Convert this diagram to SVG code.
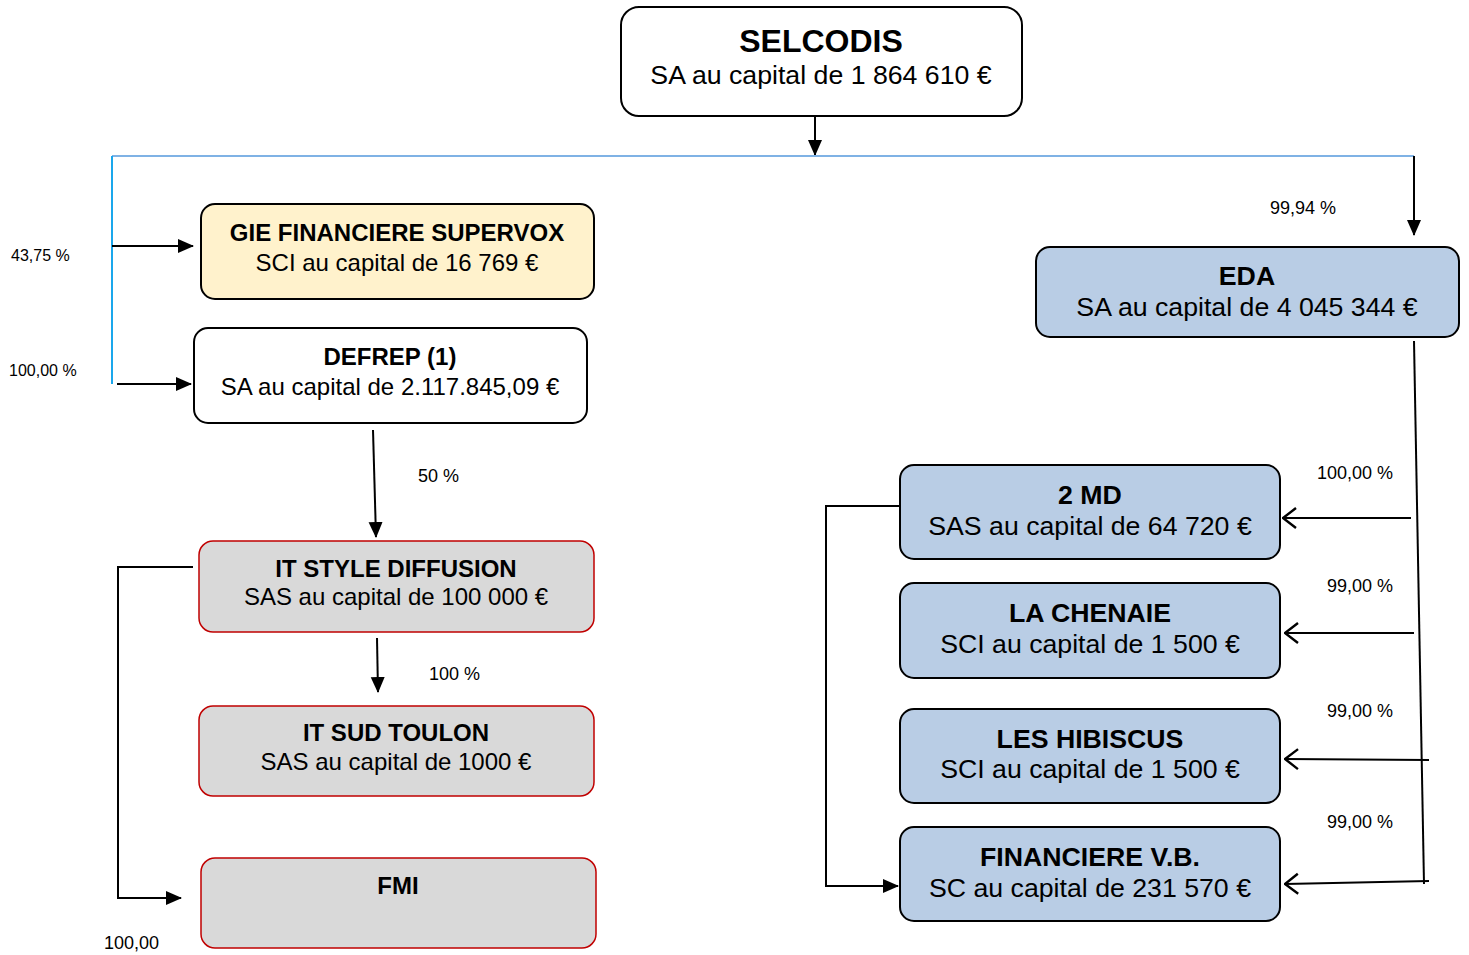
<svg xmlns="http://www.w3.org/2000/svg" width="1469" height="955" viewBox="0 0 1469 955">
<style>
text{font-family:"Liberation Sans",Arial,sans-serif;fill:#000;text-anchor:middle}
.t{font-weight:bold}
.lbl{font-size:18px;text-anchor:start}
.sm{font-size:16px;text-anchor:start}
.box{stroke:#000;stroke-width:2}
.red{stroke:#c00000;stroke-width:1.5;fill:#d9d9d9}
.blue{fill:#b9cde5}
.ln{stroke:#000;stroke-width:2;fill:none}
</style>
<defs>
<marker id="fa" markerWidth="16" markerHeight="16" refX="15" refY="8" orient="auto" markerUnits="userSpaceOnUse">
<path d="M0,1 L16,8 L0,15 Z" fill="#000"/>
</marker>
<marker id="oa" markerWidth="16" markerHeight="24" refX="15" refY="12" orient="auto" markerUnits="userSpaceOnUse">
<path d="M2,2 L15,12 L2,22" fill="none" stroke="#000" stroke-width="2.4"/>
</marker>
</defs>
<rect width="1469" height="955" fill="#fff"/>

<g id="connectors">
<line x1="815" y1="117" x2="815" y2="155" class="ln" marker-end="url(#fa)"/>
<line x1="112" y1="156" x2="1414" y2="156" stroke="#7fb2e5" stroke-width="2"/>
<line x1="112" y1="156" x2="112" y2="384" stroke="#1aa7ec" stroke-width="2"/>
<line x1="1414" y1="156" x2="1414" y2="235" class="ln" marker-end="url(#fa)"/>
<line x1="112" y1="246" x2="193" y2="246" class="ln" marker-end="url(#fa)"/>
<line x1="117" y1="384" x2="191" y2="384" class="ln" marker-end="url(#fa)"/>
<line x1="373" y1="430" x2="376" y2="537" class="ln" marker-end="url(#fa)"/>
<line x1="377" y1="638" x2="378" y2="692" class="ln" marker-end="url(#fa)"/>
<polyline points="193,567 118,567 118,898 181,898" class="ln" marker-end="url(#fa)"/>
<line x1="1414" y1="341" x2="1424" y2="884" class="ln"/>
<line x1="1411" y1="518" x2="1283" y2="518" class="ln" marker-end="url(#oa)"/>
<line x1="1414" y1="633" x2="1285" y2="633" class="ln" marker-end="url(#oa)"/>
<line x1="1429" y1="760" x2="1285" y2="759" class="ln" marker-end="url(#oa)"/>
<line x1="1429" y1="881" x2="1285" y2="884" class="ln" marker-end="url(#oa)"/>
<polyline points="900,506 826,506 826,886 898,886" class="ln" marker-end="url(#fa)"/>
</g>

<g id="labels">
<text x="1270" y="214" class="lbl">99,94 %</text>
<text x="11" y="261" class="sm">43,75 %</text>
<text x="9" y="376" class="sm">100,00 %</text>
<text x="418" y="482" class="lbl">50 %</text>
<text x="429" y="680" class="lbl">100 %</text>
<text x="104" y="949" class="lbl">100,00</text>
<text x="1317" y="479" class="lbl">100,00 %</text>
<text x="1327" y="592" class="lbl">99,00 %</text>
<text x="1327" y="717" class="lbl">99,00 %</text>
<text x="1327" y="828" class="lbl">99,00 %</text>
</g>

<g id="selcodis">
<rect x="621" y="7" width="401" height="109" rx="18" fill="#fff" class="box"/>
<text x="821" y="52" class="t" font-size="32">SELCODIS</text>
<text x="821" y="84" font-size="26.7">SA au capital de 1 864 610 €</text>
</g>

<g id="gie">
<rect x="201" y="204" width="393" height="95" rx="14" fill="#fff2cc" class="box"/>
<text x="397" y="241" class="t" font-size="24">GIE FINANCIERE SUPERVOX</text>
<text x="397" y="271" font-size="24">SCI au capital de 16 769 €</text>
</g>

<g id="defrep">
<rect x="194" y="328" width="393" height="95" rx="14" fill="#fff" class="box"/>
<text x="390" y="365" class="t" font-size="24">DEFREP (1)</text>
<text x="390" y="395" font-size="24">SA au capital de 2.117.845,09 €</text>
</g>

<g id="itstyle">
<rect x="199" y="541" width="395" height="91" rx="14" class="red"/>
<text x="396" y="577" class="t" font-size="24">IT STYLE DIFFUSION</text>
<text x="396" y="605" font-size="24">SAS au capital de 100 000 €</text>
</g>

<g id="itsud">
<rect x="199" y="706" width="395" height="90" rx="14" class="red"/>
<text x="396" y="741" class="t" font-size="24">IT SUD TOULON</text>
<text x="396" y="770" font-size="24">SAS au capital de 1000 €</text>
</g>

<g id="fmi">
<rect x="201" y="858" width="395" height="90" rx="14" class="red"/>
<text x="398" y="894" class="t" font-size="24">FMI</text>
</g>

<g id="eda">
<rect x="1036" y="247" width="423" height="90" rx="14" class="box blue"/>
<text x="1247" y="285" class="t" font-size="26.7">EDA</text>
<text x="1247" y="316" font-size="26.7">SA au capital de 4 045 344 €</text>
</g>

<g id="md2">
<rect x="900" y="465" width="380" height="94" rx="14" class="box blue"/>
<text x="1090" y="504" class="t" font-size="26.7">2 MD</text>
<text x="1090" y="535" font-size="26.7">SAS au capital de 64 720 €</text>
</g>

<g id="chenaie">
<rect x="900" y="583" width="380" height="95" rx="14" class="box blue"/>
<text x="1090" y="622" class="t" font-size="26.7">LA CHENAIE</text>
<text x="1090" y="653" font-size="26.7">SCI au capital de 1 500 €</text>
</g>

<g id="hibiscus">
<rect x="900" y="709" width="380" height="94" rx="14" class="box blue"/>
<text x="1090" y="748" class="t" font-size="26.7">LES HIBISCUS</text>
<text x="1090" y="778" font-size="26.7">SCI au capital de 1 500 €</text>
</g>

<g id="financiere">
<rect x="900" y="827" width="380" height="94" rx="14" class="box blue"/>
<text x="1090" y="866" class="t" font-size="26.7">FINANCIERE V.B.</text>
<text x="1090" y="897" font-size="26.7">SC au capital de 231 570 €</text>
</g>
</svg>
